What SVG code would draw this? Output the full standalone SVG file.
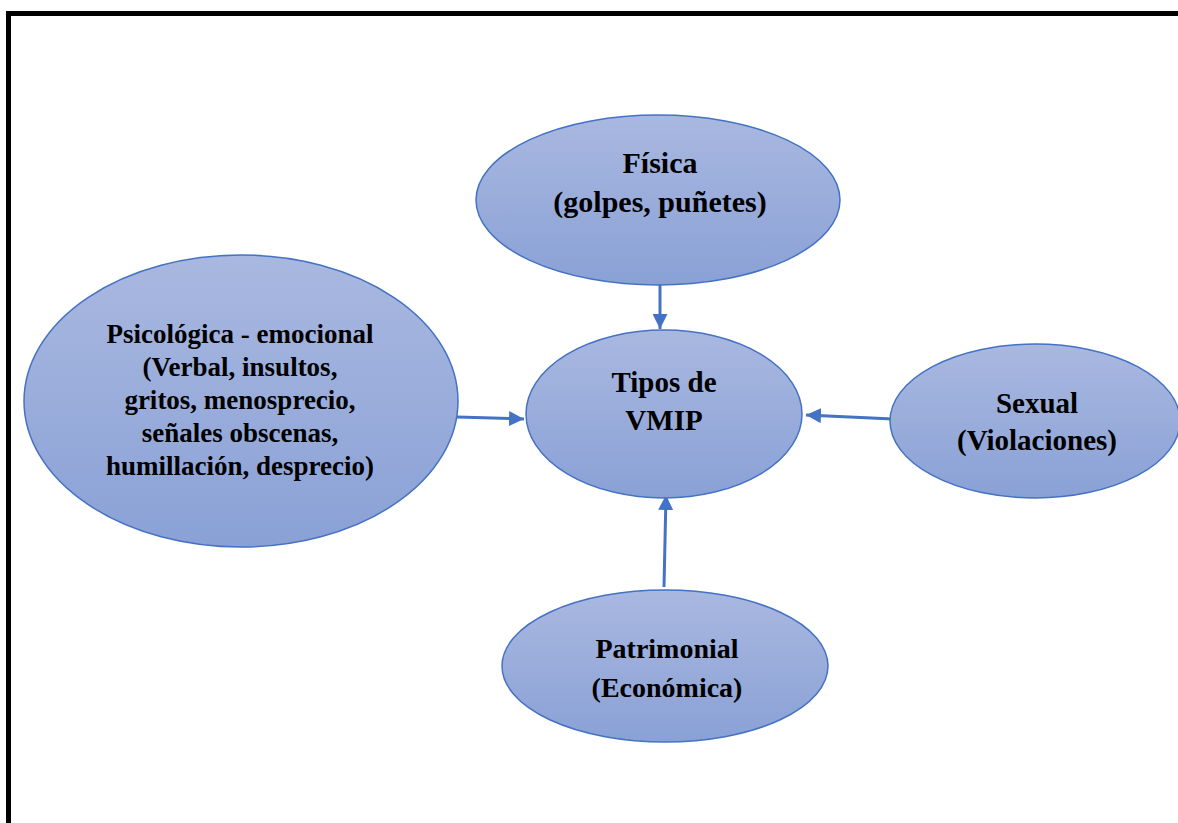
<svg xmlns="http://www.w3.org/2000/svg" width="1178" height="823" viewBox="0 0 1178 823">
<style>
.node{fill:url(#g);stroke:#4472c4;stroke-width:1.5}
.t{font-family:"Liberation Serif","Times New Roman",serif;font-weight:bold;font-size:29px;fill:#000;text-anchor:middle}
.p{font-size:27px}
.c{stroke:#4472c4;stroke-width:3;fill:none;marker-end:url(#ah)}
</style>
<defs>
<linearGradient id="g" x1="0" y1="0" x2="0" y2="1">
<stop offset="0" stop-color="#a9b8e0"/>
<stop offset="1" stop-color="#8aa1d6"/>
</linearGradient>
<marker id="ah" viewBox="0 0 10 10" refX="10" refY="5" markerWidth="5" markerHeight="5" orient="auto" markerUnits="strokeWidth">
<path d="M0,0 L10,5 L0,10 z" fill="#4472c4"/>
</marker>
</defs>
<rect x="8.5" y="13.5" width="1200" height="840" fill="none" stroke="#000" stroke-width="5"/>
<g id="connectors">
<line class="c" x1="660" y1="285" x2="660" y2="329"/>
<line class="c" x1="457" y1="417" x2="524" y2="419"/>
<line class="c" x1="893" y1="419" x2="806" y2="415"/>
<line class="c" x1="664" y1="587" x2="666" y2="495"/>
</g>
<g id="fisica">
<ellipse class="node" cx="658" cy="200" rx="182" ry="85"/>
<text class="t" x="660" y="173" style="font-size:30px">Física</text>
<text class="t" x="660" y="212" style="font-size:30px">(golpes, puñetes)</text>
</g>
<g id="tipos">
<ellipse class="node" cx="664" cy="414" rx="138" ry="84"/>
<text class="t" x="664" y="392">Tipos de</text>
<text class="t" x="664" y="430">VMIP</text>
</g>
<g id="psicologica">
<ellipse class="node" cx="241" cy="401" rx="217" ry="146"/>
<text class="t p" x="240" y="343">Psicológica - emocional</text>
<text class="t p" x="240" y="376">(Verbal, insultos,</text>
<text class="t p" x="240" y="409">gritos, menosprecio,</text>
<text class="t p" x="240" y="442">señales obscenas,</text>
<text class="t p" x="240" y="475">humillación, desprecio)</text>
</g>
<g id="sexual">
<ellipse class="node" cx="1035" cy="421" rx="145" ry="77"/>
<text class="t" x="1037" y="413">Sexual</text>
<text class="t" x="1037" y="450">(Violaciones)</text>
</g>
<g id="patrimonial">
<ellipse class="node" cx="665" cy="666" rx="163" ry="76"/>
<text class="t" x="667" y="658" style="font-size:28px">Patrimonial</text>
<text class="t" x="667" y="697" style="font-size:28px">(Económica)</text>
</g>
</svg>
